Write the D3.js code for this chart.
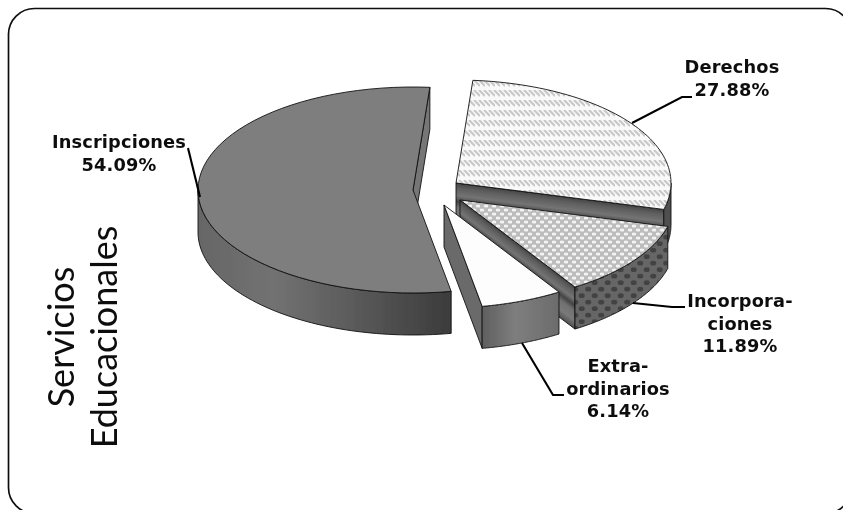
<!DOCTYPE html>
<html><head><meta charset="utf-8">
<script src="https://cdnjs.cloudflare.com/ajax/libs/d3/7.8.5/d3.min.js"></script>
<style>html,body{margin:0;padding:0;background:#fff}svg{display:block}</style>
</head><body><svg id="c" width="843" height="510"></svg>
<script>
// DATA
const categories = ["Derechos","Incorporaciones","Extraordinarios","Inscripciones"];
const values = [27.88,11.89,6.14,54.09];
const labelLines = [["Derechos","27.88%"],["Incorpora-","ciones","11.89%"],["Extra-","ordinarios","6.14%"],["Inscripciones","54.09%"]];
const titleLines = ["Servicios","Educacionales"];

// LAYOUT
const rx=215, ry=103, depth=42, startDeg=4.5;
const centers=[[456,183],[460,200],[444,205],[413,190]];
const labelPos=[[732,73],[740,307],[618,372],[119,148]];
const leaders=[[[632,123],[682,97],[692,97]],[[633,303],[672,307],[685,307]],[[522,343],[553,395],[564,395]],[[188,148],[200,197]]];
const topFill=["url(#pD)","url(#pI)","#fdfdfd","#7e7e7e"];
const rimFill=["#505050","url(#pM)","url(#gE)","url(#gS)"];

const svg=d3.select("#c"), defs=svg.append("defs");
defs.append("filter").attr("id","soft").attr("x","-5%").attr("y","-5%").attr("width","110%").attr("height","110%")
  .append("feGaussianBlur").attr("stdDeviation",0.4);

function grad(id,stops,x1,x2,y1,y2){
  const g=defs.append("linearGradient").attr("id",id).attr("gradientUnits","userSpaceOnUse")
    .attr("x1",x1).attr("x2",x2).attr("y1",y1||0).attr("y2",y2||0);
  stops.forEach(s=>g.append("stop").attr("offset",s[0]).attr("stop-color",s[1]));
}
grad("gS",[[0,"#666"],[.3,"#727272"],[.6,"#5c5c5c"],[1,"#3c3c3c"]],198,449);
grad("gE",[[0,"#5e5e5e"],[.45,"#7e7e7e"],[1,"#6c6c6c"]],481,558);

// textures
let p=defs.append("pattern").attr("id","pD").attr("patternUnits","userSpaceOnUse").attr("width",5).attr("height",10);
p.append("rect").attr("width",5).attr("height",10).attr("fill","#f9f9f9");
p.append("path").attr("d","M-1,0L5,6M4,0L10,6").attr("stroke","#c8c8c8").attr("stroke-width",2.2);
p=defs.append("pattern").attr("id","pI").attr("patternUnits","userSpaceOnUse").attr("width",8).attr("height",8);
p.append("rect").attr("width",8).attr("height",8).attr("fill","#bcbcbc");
p.append("ellipse").attr("cx",2).attr("cy",2).attr("rx",2.3).attr("ry",1.6).attr("fill","#f3f3f3");
p.append("ellipse").attr("cx",6).attr("cy",6).attr("rx",2.3).attr("ry",1.6).attr("fill","#f3f3f3");
p=defs.append("pattern").attr("id","pM").attr("patternUnits","userSpaceOnUse").attr("width",13).attr("height",13);
p.append("rect").attr("width",13).attr("height",13).attr("fill","#666");
p.append("ellipse").attr("cx",3.2).attr("cy",3.2).attr("rx",3).attr("ry",2.4).attr("fill","#424242");
p.append("ellipse").attr("cx",9.7).attr("cy",9.7).attr("rx",3).attr("ry",2.4).attr("fill","#424242");

const root=svg.append("g").attr("filter","url(#soft)");

// frame
root.append("rect").attr("x",8.5).attr("y",8.5).attr("width",843).attr("height",505).attr("rx",26).attr("ry",26)
  .attr("fill","#fff").attr("stroke","#111").attr("stroke-width",1.7);

// pie
const arcs=d3.pie().sort(null).value(d=>d)
  .startAngle(startDeg*Math.PI/180).endAngle((startDeg+360)*Math.PI/180)(values);
const sx=d3.scaleLinear().domain([-1,1]).range([-rx,rx]);
const sy=d3.scaleLinear().domain([-1,1]).range([ry,-ry]);
const line=d3.line();
const pt=(c,a,dz=0)=>[c[0]+sx(Math.sin(a)),c[1]+sy(Math.cos(a))+dz];
const sweep=(a0,a1)=>d3.range(0,61).map(i=>a0+(a1-a0)*i/60);
const ink={stroke:"#111","stroke-width":.9,"stroke-linejoin":"round"};
const styled=s=>{Object.entries(ink).forEach(([k,v])=>s.attr(k,v));return s;};

// draw back-to-front: the large slice first, then the exploded ones in order
[3,0,1,2].forEach(i=>{
  const d=arcs[i], c=centers[i], g=root.append("g").attr("class","slice").attr("data-category",categories[i]);
  const e=pt(c,d.endAngle);
  // cut face
  const dx=e[0]-c[0], dy=e[1]-c[1], L=Math.hypot(dx,dy);
  const nx=-dy/L, ny=dx/L, k=depth*ny;
  const id="gW"+i;
  if(i<2) grad(id,[[0,"#454545"],[.12,"#5e5e5e"],[.3,"#747474"],[.44,"#444"],[.58,"#707070"],[.8,"#7a7a7a"],[1,"#505050"]],
      c[0],c[0]+nx*k,c[1],c[1]+ny*k);
  const wallFill=i<2?`url(#${id})`:(i===2?"#6a6a6a":"#767676");
  styled(g.append("path").attr("d",line([c,e,[e[0],e[1]+depth],[c[0],c[1]+depth]])+"Z").attr("fill",wallFill));
  // outer rim (only the part facing the viewer)
  const a0=Math.max(d.startAngle,Math.PI/2), a1=Math.min(d.endAngle,Math.PI*1.5);
  if(a1>a0){
    const s=sweep(a0,a1);
    styled(g.append("path").attr("d",line(s.map(a=>pt(c,a)).concat(s.slice().reverse().map(a=>pt(c,a,depth))))+"Z").attr("fill",rimFill[i]));
  }
  // top
  styled(g.append("path").attr("d",line([c].concat(sweep(d.startAngle,d.endAngle).map(a=>pt(c,a))))+"Z").attr("fill",topFill[i]));
});

// leaders
leaders.forEach(l=>root.append("path").attr("d",line(l)).attr("fill","none").attr("stroke","#000").attr("stroke-width",2.1));

// labels
labelLines.forEach((ls,i)=>{
  ls.forEach((t,j)=>root.append("text").attr("x",labelPos[i][0]).attr("y",labelPos[i][1]+j*22.7)
    .attr("text-anchor","middle").attr("font-family","DejaVu Sans").attr("font-weight","bold")
    .attr("font-size",17.8).attr("letter-spacing",.15).attr("fill","#111").text(t));
});
// title
titleLines.forEach((t,j)=>root.append("text").attr("transform",`translate(${74+j*43},337) rotate(-90)`)
  .attr("text-anchor","middle").attr("font-family","Lato").attr("font-size",36).attr("fill","#111").text(t));
</script></body></html>
